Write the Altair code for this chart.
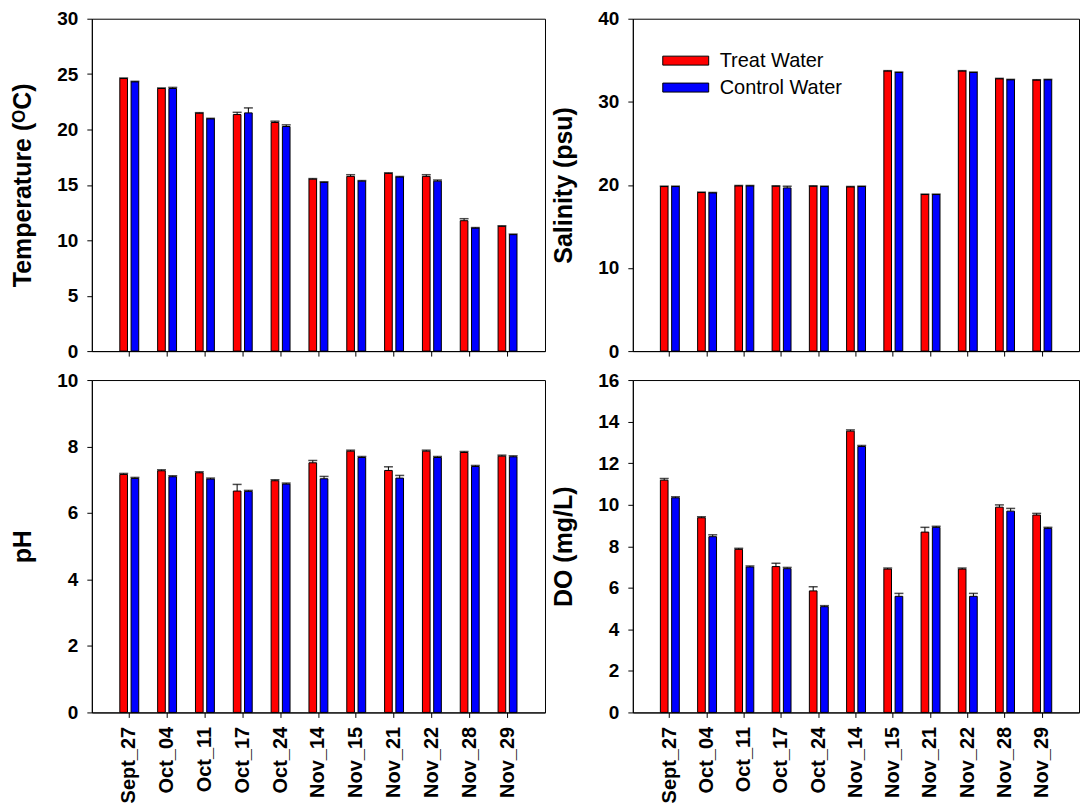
import altair as alt
import pandas as pd

dates = ["Sept_27", "Oct_04", "Oct_11", "Oct_17", "Oct_24", "Nov_14",
         "Nov_15", "Nov_21", "Nov_22", "Nov_28", "Nov_29"]
groups = ["Treat Water", "Control Water"]
colors = ["#ff0000", "#0000ff"]

# Temperature (ºC)
temp_treat = [24.6, 23.7, 21.47, 21.35, 20.63, 15.52, 15.77, 16.04, 15.77, 11.77, 11.26]
temp_treat_err = [0.05, 0.05, 0.05, 0.2, 0.12, 0.05, 0.15, 0.05, 0.15, 0.18, 0.05]
temp_ctrl = [24.3, 23.7, 20.96, 21.5, 20.27, 15.23, 15.34, 15.71, 15.34, 11.1, 10.51]
temp_ctrl_err = [0.05, 0.1, 0.05, 0.45, 0.15, 0.05, 0.05, 0.05, 0.1, 0.05, 0.05]

# Salinity (psu)
sal_treat = [19.8, 19.08, 19.88, 19.84, 19.84, 19.76, 33.7, 18.84, 33.7, 32.77, 32.61]
sal_treat_err = [0.05] * 11
sal_ctrl = [19.8, 19.04, 19.88, 19.64, 19.8, 19.8, 33.53, 18.84, 33.53, 32.65, 32.65]
sal_ctrl_err = [0.05, 0.05, 0.05, 0.2, 0.05, 0.05, 0.05, 0.05, 0.05, 0.05, 0.05]

# pH
ph_treat = [7.16, 7.27, 7.21, 6.66, 6.97, 7.51, 7.86, 7.28, 7.86, 7.82, 7.71]
ph_treat_err = [0.03, 0.03, 0.03, 0.2, 0.03, 0.07, 0.03, 0.11, 0.03, 0.03, 0.03]
ph_ctrl = [7.04, 7.09, 7.02, 6.65, 6.87, 7.03, 7.67, 7.05, 7.67, 7.40, 7.69]
ph_ctrl_err = [0.03, 0.03, 0.03, 0.03, 0.03, 0.07, 0.03, 0.08, 0.03, 0.03, 0.03]

# Dissolved oxygen (mg/L)
do_treat = [11.18, 9.37, 7.85, 7.02, 5.85, 13.54, 6.9, 8.68, 6.9, 9.88, 9.5]
do_treat_err = [0.08, 0.05, 0.05, 0.16, 0.2, 0.06, 0.05, 0.23, 0.05, 0.11, 0.08]
do_ctrl = [10.33, 8.46, 7.0, 6.92, 5.09, 12.8, 5.59, 8.91, 5.59, 9.69, 8.86]
do_ctrl_err = [0.05, 0.09, 0.05, 0.06, 0.05, 0.05, 0.14, 0.05, 0.14, 0.13, 0.05]

FONT = "Liberation Sans"
PANEL_H = 333
PAD_LEFT = 10
PAD_TOP = 8

# One shared legend for the color scale, placed inside the salinity panel.
# Wide flat swatch: path spans +-4.6 x +-0.9 in symbol units (size 100 -> x5).
legend = alt.Legend(
    orient="none", legendX=585, legendY=32,
    title=None, padding=0,
    symbolType="M-4.6,-0.9H4.6V0.9H-4.6Z", symbolSize=100,
    symbolStrokeColor="black", symbolStrokeWidth=1, symbolOpacity=1,
    labelFont=FONT, labelFontSize=20, labelFontWeight="normal",
    labelColor="black", labelOffset=24, rowPadding=7,
)


def panel(treat, treat_err, ctrl, ctrl_err, title, ymax, ystep, width,
          show_dates):
    df = pd.DataFrame({
        "date": dates * 2,
        "group": [groups[0]] * len(dates) + [groups[1]] * len(dates),
        "value": treat + ctrl,
        "err": treat_err + ctrl_err,
    })
    df["top"] = df["value"] + df["err"]

    xscale = alt.Scale(paddingInner=0.5, paddingOuter=0.74)
    xaxis = alt.Axis(labels=show_dates, labelAngle=-90, labelPadding=9,
                     labelFontSize=20, tickSize=5, title=None)
    x = alt.X("date:N", sort=dates, title=None, scale=xscale, axis=xaxis)
    xo = alt.XOffset("group:N", sort=groups,
                     scale=alt.Scale(paddingInner=0.32, paddingOuter=0))
    yscale = alt.Scale(domain=[0, ymax], nice=False, zero=True)
    yaxis = alt.Axis(values=list(range(0, ymax + 1, ystep)), title=title,
                     labelPadding=9, labelFontSize=19, titleFontSize=25,
                     titlePadding=21, tickSize=5)

    base = alt.Chart(df).properties(width=width, height=PANEL_H)
    bars = base.mark_bar(stroke="black", strokeWidth=1).encode(
        x=x,
        xOffset=xo,
        y=alt.Y("value:Q", scale=yscale, axis=yaxis, title=title),
        color=alt.Color("group:N", sort=groups,
                        scale=alt.Scale(domain=groups, range=colors),
                        legend=legend),
    )
    stems = base.mark_rule(color="black", strokeWidth=1).encode(
        x=x, xOffset=xo,
        y=alt.Y("value:Q", scale=yscale, axis=yaxis, title=title),
        y2="top:Q",
    )
    caps = base.mark_tick(color="black", thickness=1.5, size=9).encode(
        x=x, xOffset=xo,
        y=alt.Y("top:Q", scale=yscale, axis=yaxis, title=title),
    )
    return alt.layer(bars, stems, caps)


LEFT_W = 454
RIGHT_W = 447

temp = panel(temp_treat, temp_treat_err, temp_ctrl, temp_ctrl_err,
             "Temperature (ᴼC)", 30, 5, LEFT_W, False)
sal = panel(sal_treat, sal_treat_err, sal_ctrl, sal_ctrl_err,
            "Salinity (psu)", 40, 10, RIGHT_W, False)
ph = panel(ph_treat, ph_treat_err, ph_ctrl, ph_ctrl_err,
           "pH", 10, 2, LEFT_W, True)
do = panel(do_treat, do_treat_err, do_ctrl, do_ctrl_err,
           "DO (mg/L)", 16, 2, RIGHT_W, True)

chart = alt.vconcat(
    alt.hconcat(temp, sal, spacing=5),
    alt.hconcat(ph, do, spacing=5),
    spacing=8,
).properties(
    padding={"left": PAD_LEFT, "top": PAD_TOP, "right": 0, "bottom": 0},
    background="white",
).configure_view(
    stroke="black", strokeWidth=1,
).configure_axis(
    grid=False,
    domainColor="black", domainWidth=1,
    tickColor="black", tickWidth=1,
    labelFont=FONT, titleFont=FONT,
    labelFontWeight="bold", titleFontWeight="bold",
    labelColor="black", titleColor="black",
)

chart.save("out.html", embed_options={"renderer": "svg", "actions": False})
